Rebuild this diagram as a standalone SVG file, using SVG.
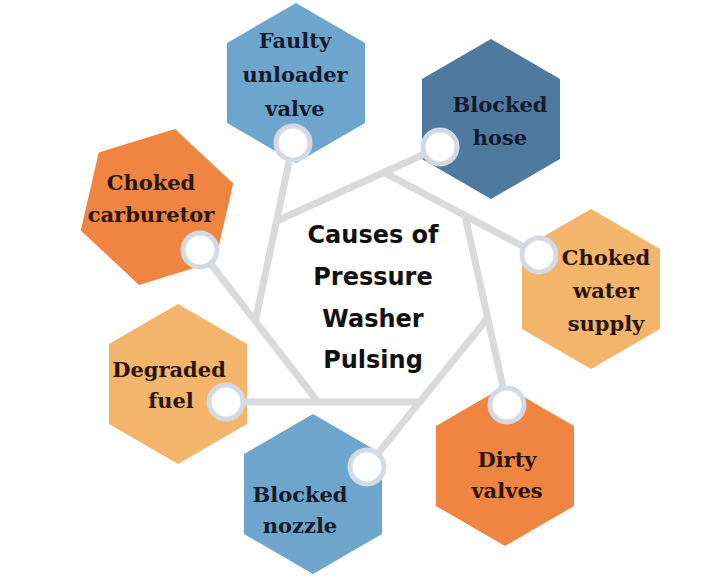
<svg xmlns="http://www.w3.org/2000/svg" xmlns:xlink="http://www.w3.org/1999/xlink" width="720" height="576" viewBox="0 0 720 576">
<style>
.hex{stroke:none}
.blue{fill:#6ea5cd}
.navy{fill:#4e7aa0}
.orange{fill:#ef8540}
.light{fill:#f3b46c}
.lbl{font-family:"DejaVu Serif","Liberation Serif",serif;font-weight:bold;font-size:21px;text-anchor:middle}
.dk{fill:#161b2b}
.br{fill:#2a150a}
.title{font-family:"DejaVu Sans","Liberation Sans",sans-serif;font-weight:bold;font-size:24px;text-anchor:middle;fill:#111111}
.ln{stroke:#dadada;stroke-width:7;fill:none;stroke-linecap:butt}
.port{fill:#ffffff;stroke:#d4dae3;stroke-width:5}
</style>
<defs>
<polygon id="hex" points="0,-80 69,-40 69,40 0,80 -69,40 -69,-40"/>
</defs>
<rect width="720" height="576" fill="#ffffff"/>
<g id="node-faulty">
<use xlink:href="#hex" href="#hex" class="hex blue" transform="translate(296,83)"/>
<text class="lbl dk" x="295" y="48">Faulty</text>
<text class="lbl dk" x="295" y="82">unloader</text>
<text class="lbl dk" x="295" y="116">valve</text>
</g>
<g id="node-hose">
<use xlink:href="#hex" href="#hex" class="hex navy" transform="translate(491,119)"/>
<text class="lbl dk" x="500" y="112">Blocked</text>
<text class="lbl dk" x="500" y="145">hose</text>
</g>
<g id="node-carburetor">
<use xlink:href="#hex" href="#hex" class="hex orange" transform="translate(157,207) rotate(13)"/>
<text class="lbl br" x="151" y="190">Choked</text>
<text class="lbl br" x="151" y="222">carburetor</text>
</g>
<g id="node-water">
<use xlink:href="#hex" href="#hex" class="hex light" transform="translate(591,289)"/>
<text class="lbl br" x="606" y="265">Choked</text>
<text class="lbl br" x="606" y="298">water</text>
<text class="lbl br" x="606" y="331">supply</text>
</g>
<g id="node-fuel">
<use xlink:href="#hex" href="#hex" class="hex light" transform="translate(178,384)"/>
<text class="lbl br" x="169" y="377">Degraded</text>
<text class="lbl br" x="171" y="408">fuel</text>
</g>
<g id="node-valves">
<use xlink:href="#hex" href="#hex" class="hex orange" transform="translate(505,466)"/>
<text class="lbl br" x="507" y="467">Dirty</text>
<text class="lbl br" x="507" y="498">valves</text>
</g>
<g id="node-nozzle">
<use xlink:href="#hex" href="#hex" class="hex blue" transform="translate(313,494)"/>
<text class="lbl dk" x="300" y="502">Blocked</text>
<text class="lbl dk" x="300" y="533">nozzle</text>
</g>
<g id="connectors">
<line class="ln" x1="293" y1="143" x2="255.3" y2="321.3"/>
<line class="ln" x1="440" y1="147" x2="276.5" y2="221"/>
<line class="ln" x1="539" y1="255" x2="384" y2="172.4"/>
<line class="ln" x1="507" y1="405" x2="465" y2="215.6"/>
<line class="ln" x1="367" y1="467" x2="487.7" y2="318"/>
<line class="ln" x1="226" y1="402" x2="419.7" y2="402"/>
<line class="ln" x1="200" y1="250" x2="318" y2="402"/>
<circle class="port" cx="293" cy="143" r="17"/>
<circle class="port" cx="440" cy="147" r="17"/>
<circle class="port" cx="539" cy="255" r="17"/>
<circle class="port" cx="507" cy="405" r="17"/>
<circle class="port" cx="367" cy="467" r="17"/>
<circle class="port" cx="226" cy="402" r="17"/>
<circle class="port" cx="200" cy="250" r="17"/>
</g>
<g id="node-center">
<text class="title" x="373" y="243">Causes of</text>
<text class="title" x="373" y="285">Pressure</text>
<text class="title" x="373" y="327">Washer</text>
<text class="title" x="373" y="368">Pulsing</text>
</g>
</svg>
